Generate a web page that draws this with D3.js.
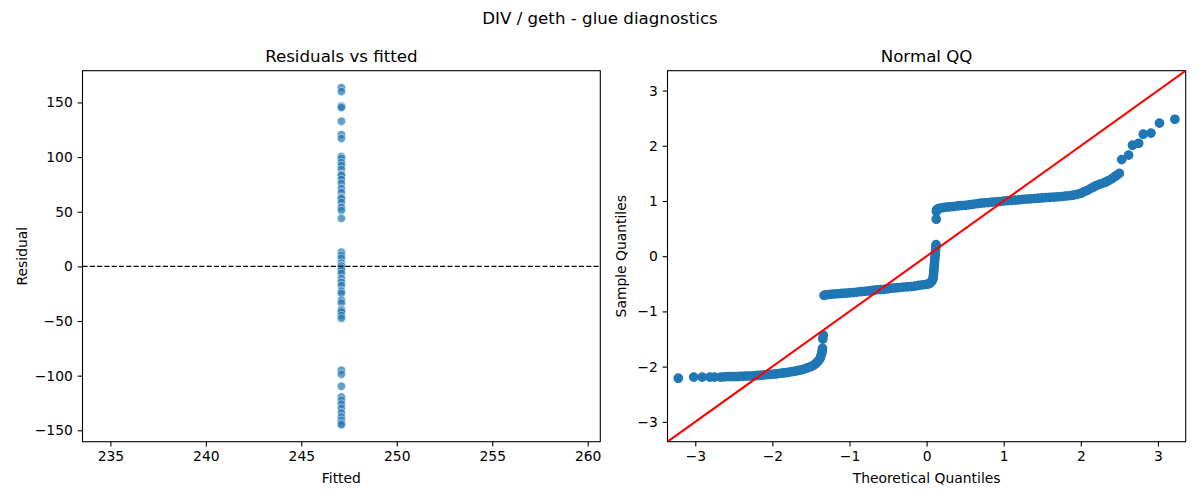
<!DOCTYPE html>
<html lang="en">
<head>
<meta charset="utf-8">
<script src="https://d3js.org/d3.v7.min.js"></script>
<style>
  body { margin: 0; background: #fff; }
  text { font-family: "DejaVu Sans", sans-serif; fill: #000; }
</style>
</head>
<body>
<script>
// fitted value is the same for every observation
const fitted = 247.1;
const residuals = [163.6, 160.0, 146.5, 145.3, 132.8, 120.6, 117.0, 100.5, 98.7, 95.0,
  92.3, 88.7, 84.0, 83.2, 79.5, 75.9, 71.3, 67.6, 63.0, 62.0, 58.5, 54.0, 51.2, 43.9,
  13.1, 10.0, 7.3, 3.0, 0.9, 0.2, -1.5, -3.7, -6.4, -11.0, -14.6, -17.4, -22.6, -24.7,
  -31.0, -33.5, -39.3, -40.5, -41.8, -45.0, -47.5,
  -95.0, -98.7, -109.7, -119.5, -122.5, -126.0, -129.8, -134.0, -137.7, -140.8, -143.5, -145.0];

// normal QQ: theoretical vs sample quantiles
const qqTheoretical = [
  -3.22, -3.02, -2.91, -2.81, -2.75, -2.67, -2.62, -2.57, -2.53, -2.49, -2.45, -2.42, -2.38,
  -2.34, -2.30, -2.26, -2.22, -2.18, -2.14, -2.10, -2.06, -2.02, -1.98, -1.94, -1.90, -1.86,
  -1.82, -1.78, -1.74, -1.70, -1.66, -1.62, -1.58, -1.54, -1.50, -1.47, -1.44, -1.42, -1.40,
  -1.38, -1.37, -1.36, -1.355, -1.35, -1.345, -1.34,
  -1.33, -1.30, -1.25, -1.20, -1.15, -1.10, -1.05, -1.00, -0.95, -0.90, -0.85, -0.80, -0.75,
  -0.70, -0.65, -0.60, -0.55, -0.50, -0.45, -0.40, -0.35, -0.30, -0.25, -0.20, -0.15, -0.10,
  -0.05, 0.00, 0.03, 0.05, 0.07,
  0.08, 0.085, 0.09, 0.093, 0.096, 0.099, 0.102, 0.105, 0.108, 0.111, 0.114, 0.117, 0.120, 0.123,
  0.125, 0.127,
  0.13, 0.15, 0.18, 0.22, 0.26, 0.30, 0.35, 0.40, 0.45, 0.50, 0.55, 0.60, 0.65, 0.70, 0.75,
  0.80, 0.85, 0.90, 0.95, 1.00, 1.05, 1.10, 1.15, 1.20, 1.25, 1.30, 1.35, 1.40, 1.45, 1.50,
  1.55, 1.60, 1.65, 1.70, 1.75, 1.80, 1.85, 1.90, 1.95, 2.00, 2.04, 2.08, 2.12, 2.16, 2.20,
  2.24, 2.28, 2.32, 2.36, 2.40, 2.44, 2.47, 2.50,
  2.53, 2.62, 2.67, 2.75, 2.81, 2.91, 3.02, 3.22];
const qqSample = [
  -2.21, -2.19, -2.19, -2.19, -2.19, -2.19, -2.185, -2.18, -2.18, -2.18, -2.18, -2.175, -2.175,
  -2.17, -2.17, -2.17, -2.165, -2.16, -2.155, -2.15, -2.145, -2.14, -2.135, -2.13, -2.12, -2.115,
  -2.11, -2.10, -2.09, -2.08, -2.07, -2.06, -2.04, -2.02, -2.00, -1.98, -1.95, -1.92, -1.89,
  -1.85, -1.80, -1.76, -1.72, -1.67, -1.50, -1.43,
  -0.71, -0.70, -0.69, -0.685, -0.68, -0.675, -0.67, -0.665, -0.66, -0.65, -0.64, -0.635, -0.63,
  -0.62, -0.61, -0.605, -0.60, -0.59, -0.58, -0.575, -0.57, -0.56, -0.555, -0.55, -0.54, -0.53,
  -0.52, -0.51, -0.50, -0.48, -0.45,
  -0.42, -0.38, -0.33, -0.28, -0.23, -0.18, -0.13, -0.08, -0.03, 0.02, 0.07, 0.12, 0.17, 0.21,
  0.67, 0.81,
  0.84, 0.86, 0.87, 0.88, 0.89, 0.895, 0.90, 0.91, 0.915, 0.92, 0.93, 0.94, 0.95, 0.96, 0.965,
  0.97, 0.98, 0.985, 0.99, 1.00, 1.005, 1.01, 1.015, 1.02, 1.03, 1.035, 1.04, 1.045, 1.05, 1.055,
  1.06, 1.065, 1.07, 1.075, 1.08, 1.09, 1.095, 1.105, 1.12, 1.14, 1.165, 1.19, 1.22, 1.25, 1.28,
  1.30, 1.32, 1.34, 1.37, 1.40, 1.44, 1.47, 1.50,
  1.75, 1.83, 2.01, 2.045, 2.21, 2.23, 2.41, 2.48];

const fittedTicks = [235, 240, 245, 250, 255, 260];
const residualTicks = [-150, -100, -50, 0, 50, 100, 150];
const qqTicks = [-3, -2, -1, 0, 1, 2, 3];

const W = 1200, H = 500;
const axTop = 70.7, axBottom = 441.7;
const tickLen = 4.86;

const svg = d3.select("body").append("svg")
  .attr("width", W).attr("height", H)
  .style("background", "#fff");

svg.append("text")
  .attr("x", 600).attr("y", 24)
  .attr("text-anchor", "middle")
  .style("font-size", "16.67px")
  .text("DIV / geth - glue diagnostics");

function drawFrame(x, y, xTicks, yTicks, title, xLabel, yLabel, yLabelX) {
  const [x0, x1] = x.range();
  const g = svg.append("g");
  const fmt = d3.format("d");

  const xAxis = g.append("g")
    .attr("transform", "translate(0," + axBottom + ")")
    .call(d3.axisBottom(x).tickValues(xTicks).tickFormat(fmt)
      .tickSize(tickLen).tickPadding(tickLen));
  const yAxis = g.append("g")
    .attr("transform", "translate(" + x0 + ",0)")
    .call(d3.axisLeft(y).tickValues(yTicks).tickFormat(fmt)
      .tickSize(tickLen).tickPadding(tickLen));

  [xAxis, yAxis].forEach(a => {
    a.select(".domain").remove();
    a.attr("font-family", null).attr("font-size", null);
    a.selectAll("line").attr("stroke", "#000").attr("stroke-width", 1.1);
    a.selectAll("text").style("font-size", "13.89px").attr("fill", "#000");
  });

  g.append("rect")
    .attr("x", x0).attr("y", axTop)
    .attr("width", x1 - x0).attr("height", axBottom - axTop)
    .attr("fill", "none").attr("stroke", "#000").attr("stroke-width", 1.1);

  g.append("text")
    .attr("x", (x0 + x1) / 2).attr("y", 62.4)
    .attr("text-anchor", "middle")
    .style("font-size", "16.67px")
    .text(title);

  g.append("text")
    .attr("x", (x0 + x1) / 2).attr("y", 483)
    .attr("text-anchor", "middle")
    .style("font-size", "13.89px")
    .text(xLabel);

  g.append("text")
    .attr("transform", "translate(" + yLabelX + "," + (axTop + axBottom) / 2 + ") rotate(-90)")
    .attr("text-anchor", "middle")
    .style("font-size", "13.89px")
    .text(yLabel);
  return g;
}

// ---- Residuals vs fitted
const xPad = 13.56;
const xRes = d3.scaleLinear().domain([fitted - xPad, fitted + xPad]).range([82.5, 600.3]);
const rExt = d3.extent(residuals);
const rPad = (rExt[1] - rExt[0]) * 0.05;
const yRes = d3.scaleLinear().domain([rExt[0] - rPad, rExt[1] + rPad]).range([axBottom, axTop]);

const left = drawFrame(xRes, yRes, fittedTicks, residualTicks,
  "Residuals vs fitted", "Fitted", "Residual", 26.5);

left.append("g").selectAll("circle")
  .data(residuals)
  .join("circle")
  .attr("cx", xRes(fitted))
  .attr("cy", d => yRes(d))
  .attr("r", 4.17)
  .attr("fill", "#1f77b4").attr("fill-opacity", 0.7)
  .attr("stroke", "#fff").attr("stroke-width", 0.7).attr("stroke-opacity", 0.7);

left.append("line")
  .attr("x1", 82.5).attr("x2", 600.3)
  .attr("y1", yRes(0)).attr("y2", yRes(0))
  .attr("stroke", "#000").attr("stroke-width", 1.1)
  .attr("stroke-dasharray", "5.1,2.2");

// ---- Normal QQ
const qqLim = [-3.36, 3.36];
const xQQ = d3.scaleLinear().domain(qqLim).range([667.5, 1185.7]);
const yQQ = d3.scaleLinear().domain(qqLim).range([axBottom, axTop]);

const right = drawFrame(xQQ, yQQ, qqTicks, qqTicks,
  "Normal QQ", "Theoretical Quantiles", "Sample Quantiles", 625.5);

svg.append("clipPath").attr("id", "qqclip")
  .append("rect").attr("x", 667.5).attr("y", axTop)
  .attr("width", 1185.7 - 667.5).attr("height", axBottom - axTop);

const qqG = right.append("g").attr("clip-path", "url(#qqclip)");
qqG.selectAll("circle")
  .data(d3.zip(qqTheoretical, qqSample))
  .join("circle")
  .attr("cx", d => xQQ(d[0]))
  .attr("cy", d => yQQ(d[1]))
  .attr("r", 4.17)
  .attr("fill", "#1f77b4")
  .attr("stroke", "#1f77b4").attr("stroke-width", 1.39);

qqG.append("line")
  .attr("x1", xQQ(qqLim[0])).attr("y1", yQQ(qqLim[0]))
  .attr("x2", xQQ(qqLim[1])).attr("y2", yQQ(qqLim[1]))
  .attr("stroke", "red").attr("stroke-width", 2.08);
</script>
</body>
</html>
